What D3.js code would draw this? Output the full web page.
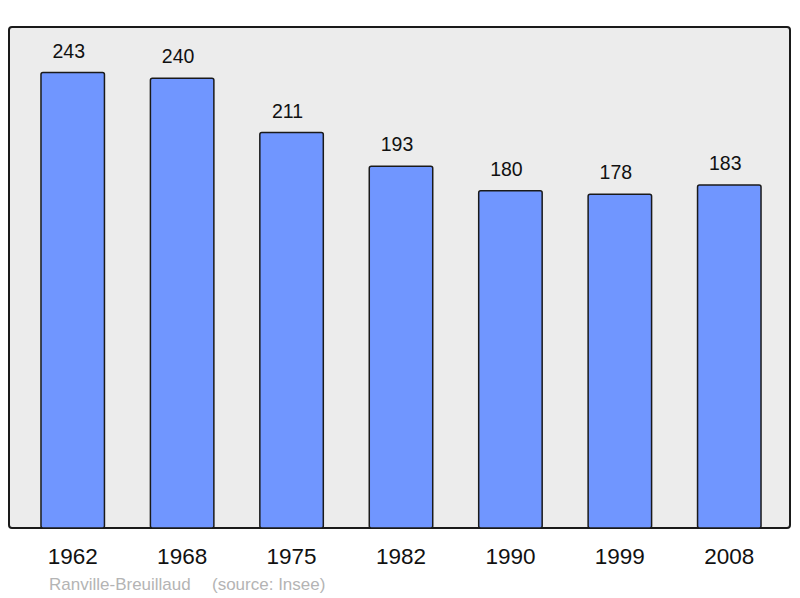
<!DOCTYPE html>
<html>
<head>
<meta charset="utf-8">
<script src="https://cdn.jsdelivr.net/npm/d3@7/dist/d3.min.js"></script>
<style>
  html, body { margin: 0; padding: 0; background: #fff; }
  svg { display: block; font-family: "Liberation Sans", Arial, sans-serif; }
</style>
</head>
<body>
<svg id="chart" width="800" height="598"></svg>
<script>
var years = ['1962', '1968', '1975', '1982', '1990', '1999', '2008'];
var population = [243, 240, 211, 193, 180, 178, 183];
var commune = 'Ranville-Breuillaud';
var source = '(source: Insee)';

var svg = d3.select('#chart');
var panel = { left: 9, top: 27, right: 790, bottom: 528 };

var x = d3.scaleBand()
  .domain(years)
  .range([18, 784])
  .paddingInner(0.42)
  .paddingOuter(0.21);

var y = d3.scaleLinear()
  .domain([0, d3.max(population) * 1.1])
  .range([panel.bottom, panel.top]);

svg.append('rect')
  .attr('x', panel.left)
  .attr('y', panel.top)
  .attr('width', panel.right - panel.left)
  .attr('height', panel.bottom - panel.top)
  .attr('rx', 3)
  .attr('fill', '#ececec')
  .attr('stroke', '#1a1a1a')
  .attr('stroke-width', 2);

var data = years.map(function (yr, i) {
  return { year: yr, value: population[i] };
});

svg.append('g')
  .selectAll('rect')
  .data(data)
  .join('rect')
  .attr('x', function (d) { return x(d.year); })
  .attr('y', function (d) { return y(d.value); })
  .attr('width', x.bandwidth())
  .attr('height', function (d) { return panel.bottom - y(d.value); })
  .attr('rx', 2)
  .attr('fill', '#7096ff')
  .attr('stroke', '#1a1a1a')
  .attr('stroke-width', 1.5);

// value labels sit a little left of the bar centre in the original
svg.append('g')
  .selectAll('text')
  .data(data)
  .join('text')
  .attr('x', function (d) { return x(d.year) + x.bandwidth() / 2 - 4; })
  .attr('y', function (d) { return y(d.value) - 15; })
  .attr('text-anchor', 'middle')
  .attr('font-size', 19.5)
  .attr('fill', '#111')
  .text(function (d) { return d.value; });

// year labels via a bottom axis, with the line and ticks hidden
var axis = svg.append('g')
  .attr('transform', 'translate(0,' + panel.bottom + ')')
  .call(d3.axisBottom(x).tickSize(0).tickPadding(36));
axis.select('.domain').remove();
axis.selectAll('text')
  .attr('font-size', 22.5)
  .attr('font-family', '"Liberation Sans", Arial, sans-serif')
  .attr('fill', '#111')
  .attr('dy', 0);

svg.append('text')
  .attr('x', 49)
  .attr('y', 590)
  .attr('font-size', 17)
  .attr('fill', '#b4b4b4')
  .text(commune);

svg.append('text')
  .attr('x', 212)
  .attr('y', 590)
  .attr('font-size', 17)
  .attr('fill', '#b4b4b4')
  .text(source);
</script>
</body>
</html>
